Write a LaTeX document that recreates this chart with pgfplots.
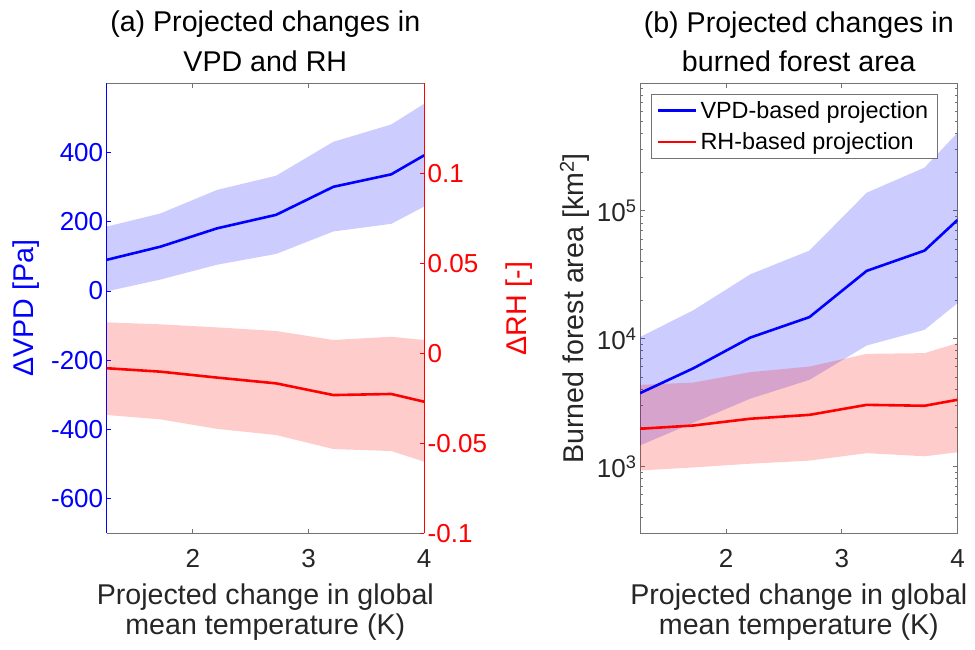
\documentclass[border=0pt]{standalone}
\usepackage{fontspec}
\setmainfont{Liberation Sans}
\usepackage{pgfplots}
\pgfplotsset{compat=1.18}

\newcommand\tickfont{\fontsize{26}{30}\selectfont}
\newcommand\labfont{\fontsize{28.6}{33}\selectfont}
\newcommand\legfont{\fontsize{23.4}{27}\selectfont}

\definecolor{axgray}{gray}{0.45}
\definecolor{txtgray}{gray}{0.15}
\definecolor{mblue}{rgb}{0,0,1}
\definecolor{mred}{rgb}{1,0,0}

\pgfplotsset{
  common/.style={
    scale only axis, width=317.5pt, height=450pt,
    xmin=1.256, xmax=4,
    xtick={2,3,4}, xticklabels={2,3,4},
    tick align=inside,
    major tick length=4.5pt, minor tick length=2.5pt,
    every tick/.style={line width=0.9pt},
    ticklabel style={font=\tickfont},
    x tick label style={text=txtgray, yshift=-13pt},
    xticklabel pos=left,
  },
  legend image code/.code={\draw[#1] (0pt,0pt) -- (38pt,0pt);},
}

\begin{document}
\begin{tikzpicture}
% ---------------- Panel (a), left axis: VPD ----------------
\begin{axis}[common,
  at={(106.7pt,115.7pt)}, anchor=south west,
  ymin=-700, ymax=600,
  ytick={-600,-400,-200,0,200,400},
  yticklabels={-600,-400,-200,0,200,400},
  ytick pos=left, yticklabel pos=left,
  separate axis lines,
  x axis line style={axgray, line width=0.9pt},
  y axis line style={mblue, line width=0.9pt},
  x tick style={axgray},
  y tick style={mblue},
  y tick label style={text=mblue},
]
\addplot[fill=mblue, fill opacity=0.2, draw=none, forget plot] coordinates {
  (1.256,186) (1.72,224) (2.21,292) (2.72,333) (3.215,431) (3.715,481) (4.0,541)
  (4.0,244) (3.715,194) (3.215,172) (2.72,107) (2.21,76) (1.72,33) (1.256,-1)
} -- cycle;
\addplot[mblue, line width=2.6pt] coordinates {
  (1.256,90) (1.72,128) (2.21,181) (2.72,220) (3.215,301) (3.715,337) (4.0,392)
};
\end{axis}
% ---------------- Panel (a), right axis: RH ----------------
\begin{axis}[common,
  at={(106.7pt,115.7pt)}, anchor=south west,
  ymin=-0.1, ymax=0.15,
  ytick={-0.1,-0.05,0,0.05,0.1},
  yticklabels={-0.1,-0.05,0,0.05,0.1},
  axis x line=none,
  axis y line*=right,
  y axis line style={mred, line width=0.9pt, -},
  y tick style={mred},
  y tick label style={text=mred},
]
\addplot[fill=mred, fill opacity=0.2, draw=none, forget plot] coordinates {
  (1.256,0.0172) (1.72,0.0161) (2.21,0.0144) (2.72,0.0124) (3.215,0.0074) (3.715,0.0092) (4.0,0.0074)
  (4.0,-0.0602) (3.715,-0.0543) (3.215,-0.0532) (2.72,-0.0454) (2.21,-0.0420) (1.72,-0.0367) (1.256,-0.0343)
} -- cycle;
\addplot[mred, line width=2.6pt] coordinates {
  (1.256,-0.0083) (1.72,-0.0102) (2.21,-0.0135) (2.72,-0.0167) (3.215,-0.0232) (3.715,-0.0226) (4.0,-0.0269)
};
\end{axis}
% ---------------- Panel (b) ----------------
\begin{axis}[common,
  at={(640pt,115.7pt)}, anchor=south west,
  ymode=log, ymin=300, ymax=9.9e5,
  ytick={1000,10000,100000},
  yticklabels={10\textsuperscript{3},10\textsuperscript{4},10\textsuperscript{5}},
  minor ytick={300,400,500,600,700,800,900,2000,3000,4000,5000,6000,7000,8000,9000,20000,30000,40000,50000,60000,70000,80000,90000,200000,300000,400000,500000,600000,700000,800000,900000},
  axis line style={axgray, line width=0.9pt},
  tick style={axgray},
  y tick label style={text=txtgray},
  legend style={at={(0.0337,0.976)}, anchor=north west, draw=axgray, fill=white,
    font=\legfont, text=black, inner xsep=6pt, inner ysep=4pt,
    row sep=7pt, nodes={inner sep=3pt}},
  legend cell align=left,
]
\addplot[fill=mblue, fill opacity=0.2, draw=none, forget plot] coordinates {
  (1.256,10260) (1.72,16700) (2.21,31800) (2.72,48700) (3.215,138000) (3.715,217000) (4.0,406000)
  (4.0,18900) (3.715,11700) (3.215,8820) (2.72,4750) (2.21,3390) (1.72,2200) (1.256,1460)
} -- cycle;
\addplot[fill=mred, fill opacity=0.2, draw=none, forget plot] coordinates {
  (1.256,4340) (1.72,4530) (2.21,5460) (2.72,6040) (3.215,7590) (3.715,7690) (4.0,9200)
  (4.0,1290) (3.715,1200) (3.215,1270) (2.72,1110) (2.21,1050) (1.72,982) (1.256,930)
} -- cycle;
\addplot[mblue, line width=2.6pt] coordinates {
  (1.256,3740) (1.72,5870) (2.21,10180) (2.72,14700) (3.215,33800) (3.715,48700) (4.0,84600)
};
\addlegendentry{VPD-based projection}
\addplot[mred, line width=2.6pt] coordinates {
  (1.256,1970) (1.72,2090) (2.21,2360) (2.72,2530) (3.215,3030) (3.715,2980) (4.0,3320)
};
\addlegendentry{RH-based projection}
\end{axis}
% ---------------- Titles and labels ----------------
\node[font=\labfont, anchor=base] at (265.3pt,617pt) {(a) Projected changes in};
\node[font=\labfont, anchor=base] at (265.3pt,577pt) {VPD and RH};
\node[font=\labfont, anchor=base] at (798.8pt,616pt) {(b) Projected changes in};
\node[font=\labfont, anchor=base] at (798.8pt,577pt) {burned forest area};
\node[font=\labfont, text=txtgray, anchor=base] at (265.3pt,45pt) {Projected change in global};
\node[font=\labfont, text=txtgray, anchor=base] at (265.3pt,15pt) {mean temperature (K)};
\node[font=\labfont, text=txtgray, anchor=base] at (798.8pt,45pt) {Projected change in global};
\node[font=\labfont, text=txtgray, anchor=base] at (798.8pt,15pt) {mean temperature (K)};
\node[font=\labfont, text=mblue, anchor=base, rotate=90] at (33pt,340.7pt) {ΔVPD [Pa]};
\node[font=\labfont, text=mred, anchor=base, rotate=90] at (526.7pt,340.5pt) {ΔRH [-]};
\node[font=\labfont, text=txtgray, anchor=base, rotate=90] at (583pt,340.7pt) {Burned forest area [km\textsuperscript{2}]};
\pgfresetboundingbox
\path (0pt,0pt) rectangle (975pt,649pt);
\end{tikzpicture}
\end{document}
